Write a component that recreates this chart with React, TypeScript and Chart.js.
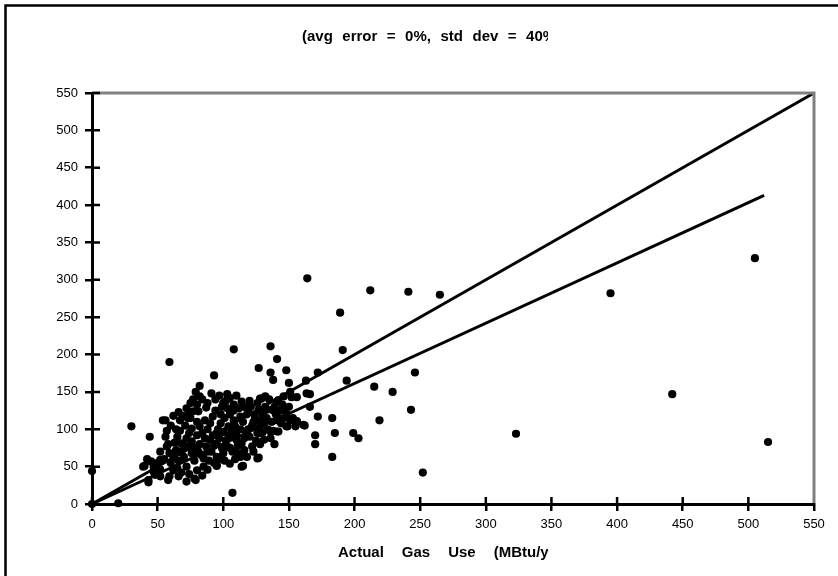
import React, { useEffect, useRef } from 'react';
import { Chart, registerables } from 'chart.js';

Chart.register(...registerables);

// Actual gas use (MBtu/yr) for each house
const actualUse = [
  0, 0, 20, 30, 59, 108, 136, 141, 93, 127, 136, 138, 148, 150, 151, 163, 163.5, 172,
  164, 212, 241, 265, 189, 191, 194, 215, 229, 246, 243, 166, 156, 166, 172, 183, 156, 162,
  219, 170, 185, 199, 203, 170, 183, 252, 323, 395, 442, 505, 515, 107,
  127, 115, 105, 95, 79, 72, 66, 58, 43, 40, 44, 56, 66, 67, 47, 43, 59, 78, 95,
  82, 82, 91, 103, 87, 100, 108, 114, 123, 128, 132, 137, 142, 141, 146, 153, 149, 138,
  142, 139, 136, 126, 122, 114, 110, 113, 100, 95, 85, 80, 85, 72, 65, 52, 52, 48, 39,
  42, 52, 59, 56, 65, 68, 52, 57, 73, 76, 70, 81, 87, 90, 95, 82, 76, 73, 77, 80, 86,
  92, 98, 104, 108, 113, 119, 117, 108, 103, 95, 91, 105, 118, 131, 128, 133, 127, 148,
  145, 156, 54, 75, 81, 75, 129, 141, 152, 133, 139, 128, 141, 151, 161, 155, 148, 136,
  141, 126, 114,
  60, 62, 64, 66, 68, 70, 72, 74, 76, 78, 78, 80, 80, 82, 83, 84, 86, 88, 88, 89, 90, 92,
  93, 94, 96, 97, 98, 99, 100, 101, 102, 103, 104, 105, 106, 107, 108, 109, 110, 111, 112,
  113, 115, 116, 118, 119, 120, 121, 122, 124, 125, 126, 128, 130, 131, 132, 134, 135, 137,
  139, 140, 143, 144, 146, 147, 150, 63, 67, 71, 74, 77, 79, 84, 88, 94, 97, 99, 102, 105,
  110, 116, 120, 58, 55, 50, 47, 45, 62, 68, 74, 84, 88, 93, 97, 101, 109, 111, 116, 123,
  128, 130, 64, 69, 72, 60, 62, 57
];

// Predicted gas use (MBtu/yr) for each house
const predictedUse = [
  0, 44, 1, 104, 190, 207, 211, 194, 172, 182, 176, 166, 179, 162, 150, 165, 148, 176,
  302, 286, 284, 280, 256, 206, 165, 157, 150, 176, 126, 147, 143, 130, 117, 115, 111, 105,
  112, 92, 95, 95, 88, 80, 63, 42, 94, 282, 147, 329, 83, 15,
  62, 51, 54, 51, 32, 30, 37, 32, 29, 51, 90, 112, 123, 112, 43, 32, 37, 34, 52,
  158, 144, 148, 147, 129, 135, 133, 137, 110, 141, 144, 126, 139, 117, 144, 115, 104, 98,
  97, 80, 88, 95, 77, 81, 86, 63, 68, 63, 61, 45, 50, 50, 48, 46, 37, 39, 50,
  60, 59, 68, 90, 90, 81, 70, 77, 77, 68, 63, 70, 77, 86, 95, 104, 101, 115, 124, 133, 112,
  117, 108, 104, 112, 117, 124, 97, 90, 77, 81, 70, 75, 63, 86, 104, 115, 126, 121,
  133, 110, 112, 135, 124, 115, 141, 137, 143, 126, 126, 112, 112, 112, 106, 104, 104, 97,
  97, 61, 50,
  55, 62, 72, 58, 70, 78, 88, 95, 84, 58, 75, 92, 110, 80, 66, 95, 88, 100, 70, 58, 108, 92,
  78, 125, 100, 88, 120, 75, 96, 115, 85, 128, 92, 120, 100, 70, 125, 104, 95, 78, 128,
  100, 110, 88, 120, 100, 90, 130, 105, 118, 85, 135, 95, 120, 108, 130, 100, 140, 110,
  130, 120, 125, 108, 115, 128, 130, 82, 98, 105, 122, 140, 150, 140, 135, 140, 145, 130, 138,
  142, 145, 130, 138, 80, 60, 55, 50, 57, 45, 42, 40, 38, 46, 55, 60, 58, 60, 68, 72, 70,
  80, 96, 100, 118, 128, 105, 118, 98
];

// Reference lines
const equalityX = [0, 550];
const equalityY = [0, 550];
const fitX = [0, 512];
const fitY = [0, 413];

const axisTicks = [0, 50, 100, 150, 200, 250, 300, 350, 400, 450, 500, 550];

const titleWords = ['(avg', 'error', '=', '0%,', 'std', 'dev', '=', '40%)'];
const xTitleWords = ['Actual', 'Gas', 'Use', '(MBtu/yr)'];

const FONT = '"Liberation Sans", Arial, Helvetica, sans-serif';

function drawWords(ctx: CanvasRenderingContext2D, words: string[], x: number, y: number, gap: number) {
  let cx = x;
  for (const w of words) {
    ctx.fillText(w, cx, y);
    cx += ctx.measureText(w).width + gap;
  }
}

const decor = {
  id: 'decor',
  beforeDraw(chart: any) {
    const { ctx, width, height } = chart;
    ctx.save();
    ctx.fillStyle = '#fff';
    ctx.fillRect(0, 0, width, height);
    ctx.restore();
  },
  afterDraw(chart: any) {
    const { ctx, chartArea: a, scales } = chart;
    ctx.save();
    // outer frame
    ctx.strokeStyle = '#000';
    ctx.lineWidth = 2.5;
    ctx.beginPath();
    ctx.moveTo(5.5, chart.height + 2);
    ctx.lineTo(5.5, 5.5);
    ctx.lineTo(chart.width + 2, 5.5);
    ctx.stroke();

    // gray top and right plot border
    ctx.strokeStyle = '#808080';
    ctx.lineWidth = 3;
    ctx.beginPath();
    ctx.moveTo(a.left + 1, a.top);
    ctx.lineTo(a.right, a.top);
    ctx.lineTo(a.right, a.bottom - 1);
    ctx.stroke();

    // inner halves of tick marks
    ctx.strokeStyle = '#000';
    ctx.lineWidth = 2.5;
    ctx.beginPath();
    axisTicks.forEach((v, i) => {
      if (i < axisTicks.length - 1) {
        const x = scales.x.getPixelForValue(v);
        ctx.moveTo(x, a.bottom);
        ctx.lineTo(x, a.bottom - 7);
      }
      const y = scales.y.getPixelForValue(v);
      ctx.moveTo(a.left, y);
      ctx.lineTo(a.left + 8, y);
    });
    ctx.stroke();

    // clipped texts
    ctx.fillStyle = '#000';
    ctx.textBaseline = 'middle';
    ctx.textAlign = 'left';
    ctx.font = `bold 15px ${FONT}`;
    ctx.save();
    ctx.beginPath();
    ctx.rect(0, 0, 548, 80);
    ctx.clip();
    drawWords(ctx, titleWords, 302, 37, 9.5);
    ctx.restore();

    ctx.save();
    ctx.beginPath();
    ctx.rect(0, 530, 548, 46);
    ctx.clip();
    drawWords(ctx, xTitleWords, 338, 553, 18);
    ctx.restore();

    ctx.restore();
  },
};

export default function App() {
  const ref = useRef<HTMLCanvasElement | null>(null);

  useEffect(() => {
    if (!ref.current) return;
    const points = actualUse.map((x, i) => ({ x, y: predictedUse[i] }));
    const eq = equalityX.map((x, i) => ({ x, y: equalityY[i] }));
    const fit = fitX.map((x, i) => ({ x, y: fitY[i] }));

    const tickFont = { family: FONT, size: 13 };

    const chart = new Chart(ref.current, {
      type: 'scatter',
      data: {
        datasets: [
          {
            type: 'line',
            label: 'Predicted = Actual',
            data: eq,
            borderColor: '#000',
            borderWidth: 3,
            pointRadius: 0,
            fill: false,
            clip: false,
          } as any,
          {
            type: 'line',
            label: 'Fit',
            data: fit,
            borderColor: '#000',
            borderWidth: 3,
            pointRadius: 0,
            fill: false,
            clip: false,
          } as any,
          {
            label: 'Houses',
            data: points,
            backgroundColor: '#000',
            borderColor: '#000',
            borderWidth: 0,
            pointRadius: 4.1,
            pointStyle: 'circle',
            clip: false,
          } as any,
        ],
      },
      options: {
        animation: false,
        responsive: false,
        maintainAspectRatio: false,
        layout: { padding: { top: 93, right: 24, left: 0, bottom: 0 } },
        plugins: {
          legend: { display: false },
          title: { display: false },
          tooltip: { enabled: false },
        },
        scales: {
          x: {
            type: 'linear',
            min: 0,
            max: 550,
            afterBuildTicks: (s: any) => {
              s.ticks = axisTicks.map((v) => ({ value: v }));
            },
            afterFit: (s: any) => {
              s.height = 72;
            },
            ticks: { color: '#000', font: tickFont, padding: 6, maxRotation: 0, autoSkip: false },
            grid: {
              display: true,
              drawOnChartArea: false,
              drawTicks: true,
              tickLength: 7,
              color: '#000',
              lineWidth: 2.5,
            },
            border: { display: true, color: '#000', width: 3 },
          },
          y: {
            type: 'linear',
            min: 0,
            max: 550,
            afterBuildTicks: (s: any) => {
              s.ticks = axisTicks.map((v) => ({ value: v }));
            },
            afterFit: (s: any) => {
              s.width = 92;
            },
            ticks: { color: '#000', font: tickFont, padding: 7, autoSkip: false },
            grid: {
              display: true,
              drawOnChartArea: false,
              drawTicks: true,
              tickLength: 7,
              color: '#000',
              lineWidth: 2.5,
            },
            border: { display: true, color: '#000', width: 3 },
          },
        },
      },
      plugins: [decor],
    });
    return () => chart.destroy();
  }, []);

  return (
    <div style={{ position: 'fixed', left: 0, top: 0, width: 838, height: 576 }}>
      <canvas ref={ref} width={838} height={576} style={{ width: 838, height: 576, display: 'block' }} />
    </div>
  );
}
